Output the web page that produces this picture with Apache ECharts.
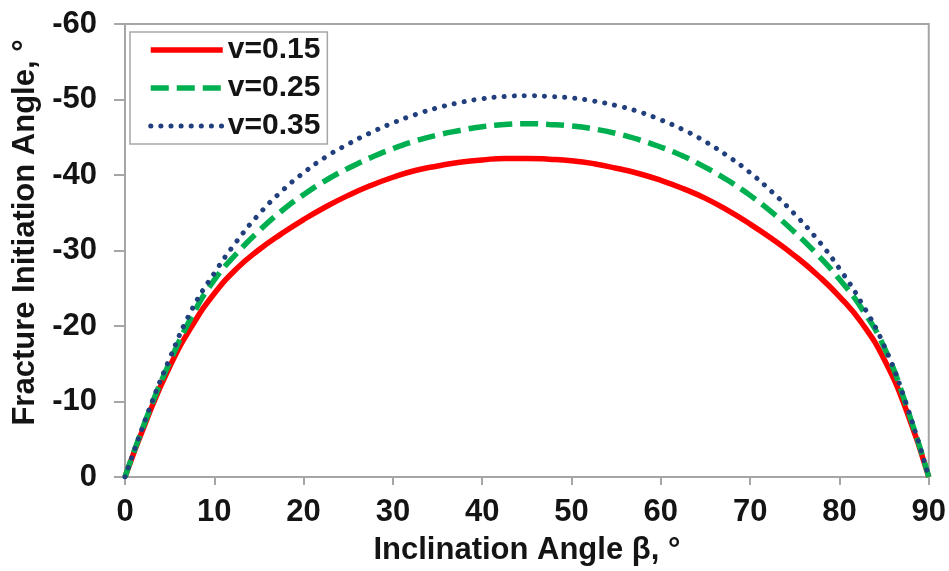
<!DOCTYPE html>
<html>
<head>
<meta charset="utf-8">
<script src="https://cdn.jsdelivr.net/npm/echarts@6/dist/echarts.min.js"></script>
<style>html,body{margin:0;padding:0;background:#fff}#c{width:949px;height:571px}</style>
</head>
<body>
<div id="c"></div>
<script>
const xTitle = 'Inclination Angle β, °';
const yTitle = 'Fracture Initiation Angle, °';
const seriesNames = ['v=0.15', 'v=0.25', 'v=0.35'];
const beta = [0, 2.5, 5, 7.5, 10, 12.5, 15, 17.5, 20, 22.5, 25, 27.5, 30, 32.5, 35, 37.5, 40, 42.5, 45, 47.5, 50, 52.5, 55, 57.5, 60, 62.5, 65, 67.5, 70, 72.5, 75, 77.5, 80, 82.5, 85, 87.5, 90];
const v015 = [0, -7.8, -14.6, -20.0, -24.3, -27.6, -30.1, -32.2, -34.1, -35.8, -37.3, -38.6, -39.7, -40.6, -41.2, -41.7, -42.0, -42.2, -42.2, -42.1, -41.9, -41.5, -40.9, -40.2, -39.3, -38.2, -36.9, -35.3, -33.5, -31.5, -29.3, -26.8, -23.9, -20.4, -15.6, -8.8, 0];
const v025 = [0, -8.1, -15.2, -21.3, -26.1, -29.6, -32.6, -35.2, -37.4, -39.3, -40.9, -42.3, -43.5, -44.5, -45.3, -45.9, -46.4, -46.7, -46.8, -46.7, -46.5, -46.1, -45.5, -44.7, -43.7, -42.5, -41.0, -39.3, -37.3, -35.0, -32.4, -29.5, -26.2, -22.3, -17.2, -9.4, 0];
const v035 = [0, -8.3, -15.7, -22.2, -27.0, -31.2, -34.8, -37.8, -40.3, -42.4, -44.1, -45.6, -46.9, -48.0, -48.9, -49.6, -50.1, -50.4, -50.5, -50.4, -50.2, -49.8, -49.2, -48.4, -47.3, -46.0, -44.4, -42.5, -40.3, -37.7, -34.8, -31.5, -27.6, -23.0, -17.4, -9.6, 0];
const yTicks = { min: -60, max: 0, step: 10 };
const xTicks = { min: 0, max: 90, step: 10 };

const pair = (ys) => beta.map((b, i) => [b, ys[i]]);
const FONT = 'Liberation Sans, Arial, sans-serif';
const GRAY = '#A6A6A6';
const TXT = '#141414';
const COLORS = ['#FF0000', '#00B050', '#203F7C'];
const LINES = [
  { color: COLORS[0], width: 5.5, type: 'solid' },
  { color: COLORS[1], width: 5.5, type: [18, 8] },
  { color: COLORS[2], width: 5, type: [0.1, 10], cap: 'round' }
];

const chart = echarts.init(document.getElementById('c'), null, { renderer: 'canvas' });
chart.setOption({
  backgroundColor: '#fff',
  animation: false,
  grid: { left: 125, right: 20, top: 24, bottom: 94, show: true, borderColor: GRAY, borderWidth: 2, backgroundColor: 'transparent' },
  legend: {
    left: 130, top: 32, orient: 'vertical',
    padding: [3, 7, 3, 18],
    borderColor: GRAY, borderWidth: 1.5, backgroundColor: '#fff',
    itemWidth: 72, itemHeight: 10, itemGap: 8, itemTextGap: 5,
    itemStyle: { opacity: 0, borderWidth: 0 },
    textStyle: { fontFamily: FONT, fontWeight: 'bold', fontSize: 30, color: TXT, lineHeight: 30 },
    data: seriesNames.map((n, i) => ({ name: n, lineStyle: Object.assign({}, LINES[i]), itemStyle: { opacity: 0, borderWidth: 0 } }))
  },
  xAxis: {
    type: 'value', min: xTicks.min, max: xTicks.max, interval: xTicks.step,
    name: xTitle, nameLocation: 'middle', nameGap: 58,
    nameTextStyle: { fontFamily: FONT, fontWeight: 'bold', fontSize: 31, color: TXT },
    axisLine: { show: true, lineStyle: { color: GRAY, width: 2 } },
    axisTick: { show: true, length: 8, lineStyle: { color: GRAY, width: 2 } },
    axisLabel: { margin: 20, fontFamily: FONT, fontWeight: 'bold', fontSize: 31, color: TXT },
    splitLine: { show: false }
  },
  yAxis: {
    type: 'value', min: yTicks.min, max: yTicks.max, interval: yTicks.step, inverse: true,
    name: yTitle, nameLocation: 'middle', nameGap: 84, nameRotate: 90,
    nameTextStyle: { fontFamily: FONT, fontWeight: 'bold', fontSize: 31, color: TXT, padding: [0, 0, 0, 36] },
    axisLine: { show: true, lineStyle: { color: GRAY, width: 2 } },
    axisTick: { show: true, length: 11, lineStyle: { color: GRAY, width: 2 } },
    axisLabel: { margin: 28, fontFamily: FONT, fontWeight: 'bold', fontSize: 31, color: TXT },
    splitLine: { show: false }
  },
  series: [
    { name: seriesNames[0], type: 'line', data: pair(v015), smooth: true, symbol: 'none', z: 3,
      lineStyle: LINES[0], itemStyle: { color: COLORS[0] } },
    { name: seriesNames[1], type: 'line', data: pair(v025), smooth: true, symbol: 'none', z: 4,
      lineStyle: LINES[1], itemStyle: { color: COLORS[1] } },
    { name: seriesNames[2], type: 'line', data: pair(v035), smooth: true, symbol: 'none', z: 5,
      lineStyle: LINES[2], itemStyle: { color: COLORS[2] } }
  ]
});
</script>
</body>
</html>
